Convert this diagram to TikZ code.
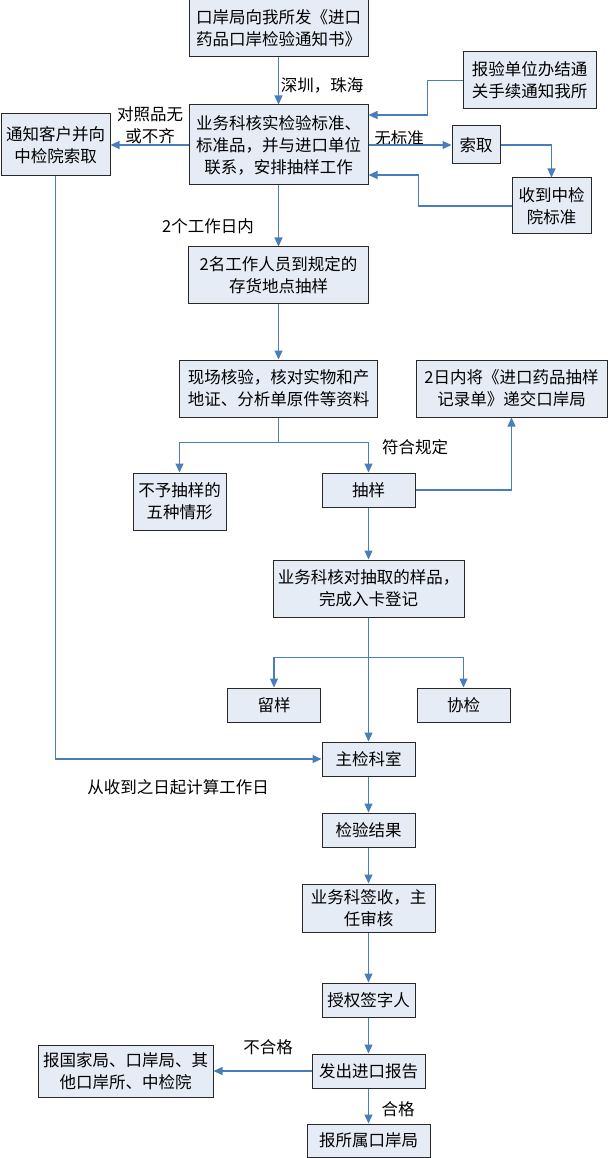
\documentclass[tikz,border=0pt]{standalone}
\usepackage{fontspec}
\newfontfamily\cjkfont{Noto Sans CJK SC}
\usetikzlibrary{arrows.meta}
\definecolor{flowblue}{RGB}{74,126,187}
\definecolor{boxfill}{RGB}{230,236,246}
\definecolor{boxline}{RGB}{40,40,40}

\begin{document}
\begin{tikzpicture}[x=1pt,y=-1pt,
    box/.style={draw=boxline,fill=boxfill,line width=1pt,align=center,
      inner sep=0pt,font=\cjkfont\fontsize{16.5}{22}\selectfont},
    small/.style={box,minimum width=93pt,minimum height=34pt},
    lbl/.style={inner sep=0pt,align=center,
      font=\cjkfont\fontsize{16.5}{22}\selectfont},
    flow/.style={draw=flowblue,line width=1.2pt,
      -{Triangle[length=9pt,width=8pt]}}]
  \useasboundingbox (0,0) rectangle (608,1158);

  \node[box,minimum width=179pt,minimum height=57pt] (notice) at (278.5,28.5)
    {口岸局向我所发《进口\\药品口岸检验通知书》};
  \node[box,minimum width=133pt,minimum height=57pt] (report) at (529.5,80.5)
    {报验单位办结通\\关手续通知我所};
  \node[box,minimum width=179pt,minimum height=80pt] (verify) at (278.5,145)
    {业务科核实检验标准、\\标准品，并与进口单位\\联系，安排抽样工作};
  \node[box,minimum width=109pt,minimum height=62pt] (notify) at (55.5,145)
    {通知客户并向\\中检院索取};
  \node[box,minimum width=48pt,minimum height=38pt] (fetch) at (476,145) {索取};
  \node[box,minimum width=79pt,minimum height=56pt] (recv) at (551.5,206)
    {收到中检\\院标准};
  \node[box,minimum width=180pt,minimum height=56pt] (staff) at (278.5,275)
    {2名工作人员到规定的\\存货地点抽样};
  \node[box,minimum width=198pt,minimum height=57pt] (check) at (278.5,388.5)
    {现场核验，核对实物和产\\地证、分析单原件等资料};
  \node[box,minimum width=191pt,minimum height=57pt] (submit) at (511.5,388.5)
    {2日内将《进口药品抽样\\记录单》递交口岸局};
  \node[box,minimum width=93pt,minimum height=57pt] (refuse) at (179.5,501.5)
    {不予抽样的\\五种情形};
  \node[small] (sample) at (368.5,490) {抽样};
  \node[box,minimum width=191pt,minimum height=57pt] (register) at (368.5,588.5)
    {业务科核对抽取的样品，\\完成入卡登记};
  \node[small] (keep) at (274,705) {留样};
  \node[small] (assist) at (463.5,705) {协检};
  \node[small] (main) at (368.5,759) {主检科室};
  \node[small] (result) at (368.5,830) {检验结果};
  \node[box,minimum width=133pt,minimum height=48pt] (sign) at (368.5,908)
    {业务科签收，主\\任审核};
  \node[small] (auth) at (368.5,1000) {授权签字人};
  \node[box,minimum width=113pt,minimum height=34pt] (issue) at (368.5,1071)
    {发出进口报告};
  \node[box,minimum width=175pt,minimum height=52pt] (national) at (125.5,1071)
    {报国家局、口岸局、其\\他口岸所、中检院};
  \node[box,minimum width=123pt,minimum height=33pt] (port) at (368.5,1140.5)
    {报所属口岸局};

  \node[lbl] (szzh) at (322,85) {深圳，珠海};
  \node[lbl] (lack) at (150,125) {对照品无\\或不齐};
  \node[lbl] (nostd) at (399,138) {无标准};
  \node[lbl] (twoday) at (208,226) {2个工作日内};
  \node[lbl] (okrule) at (415,447) {符合规定};
  \node[lbl] (fromday) at (178,787) {从收到之日起计算工作日};
  \node[lbl] (fail) at (268,1047) {不合格};
  \node[lbl] (pass) at (398,1109) {合格};

  \draw[flow] (notice) -- (verify);
  \draw[flow] (report.west) -- ++(-35,0) |- ([yshift=30pt]verify.east);
  \draw[flow] (verify) -- (notify);
  \draw[flow] (verify) -- (fetch);
  \draw[flow] (fetch.east) -| (recv.north);
  \draw[flow] (recv.west) -- ++(-93,0) |- ([yshift=-30pt]verify.east);
  \draw[flow] (verify) -- (staff);
  \draw[flow] (staff) -- (check);
  \draw[flow] (check.south) -- ++(0,25) -| (refuse.north);
  \draw[flow] (check.south) -- ++(0,25) -| (sample.north);
  \draw[flow] (sample.east) -| (submit.south);
  \draw[flow] (sample) -- (register);
  \draw[flow] (register.south) -- ++(0,40) -| (keep.north);
  \draw[flow] (register.south) -- ++(0,40) -| (assist.north);
  \draw[flow] (register) -- (main);
  \draw[flow] (notify.south) |- (main.west);
  \draw[flow] (main) -- (result);
  \draw[flow] (result) -- (sign);
  \draw[flow] (sign) -- (auth);
  \draw[flow] (auth) -- (issue);
  \draw[flow] (issue) -- (national);
  \draw[flow] (issue) -- (port);
\end{tikzpicture}
\end{document}
